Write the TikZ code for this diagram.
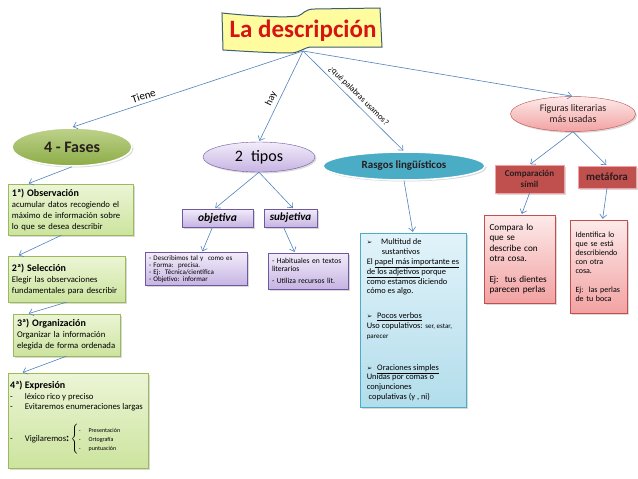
\documentclass[tikz,border=0pt]{standalone}
\usepackage{fontspec}
\setmainfont{Carlito}
\newfontfamily\symfont{DejaVu Sans}
\usetikzlibrary{arrows.meta,shapes.geometric,shadows}

\definecolor{flecha}{RGB}{79,129,189}
\definecolor{titulo}{RGB}{214,20,20}
\definecolor{banda}{RGB}{255,252,160}
\definecolor{bandaborde}{RGB}{62,95,111}
\definecolor{verdeel1}{RGB}{190,210,140}
\definecolor{verdeel2}{RGB}{140,172,70}
\definecolor{verde1}{RGB}{236,245,214}
\definecolor{verde2}{RGB}{204,228,158}
\definecolor{verdeborde}{RGB}{155,187,89}
\definecolor{lila1}{RGB}{242,236,250}
\definecolor{lila2}{RGB}{198,180,226}
\definecolor{lilaborde}{RGB}{112,88,160}
\definecolor{azulel}{RGB}{75,172,198}
\definecolor{azul1}{RGB}{226,243,250}
\definecolor{azul2}{RGB}{178,221,235}
\definecolor{rosa1}{RGB}{253,234,234}
\definecolor{rosa2}{RGB}{242,162,162}
\definecolor{rojo}{RGB}{192,80,77}
\definecolor{oscuro}{RGB}{40,30,30}

\newcommand{\flechita}{{\symfont\fontsize{6.5}{6.5}\selectfont ➢}}

\begin{document}
\begin{tikzpicture}[x=1pt,y=-1pt,->,>={Straight Barb[length=4pt,width=7pt]},shorten >=1pt,
                    every edge/.style={draw=flecha,line width=.6pt}]
  \tikzstyle{sombra}=[drop shadow={opacity=.3,shadow xshift=1.5pt,shadow yshift=-1.5pt}]
  \tikzstyle{fase}=[rectangle,draw=verdeborde,top color=verde1,bottom color=verde2,sombra,
                    align=left,inner xsep=4pt,font=\fontsize{8.7}{11}\selectfont]
  \tikzstyle{tipobox}=[rectangle,draw=lilaborde,top color=lila1,bottom color=lila2,sombra]
  \tikzstyle{figbox}=[rectangle,draw=rojo,top color=rosa1,bottom color=rosa2,sombra,align=left]
  \useasboundingbox (0,0) rectangle (638,479);

  % titulo
  \draw[-,fill=banda,draw=bandaborde,line width=1pt]
    (222,13) .. controls (250,16) and (285,18) .. (298,16)
    .. controls (304,14) and (304,9) .. (315,9) -- (380,8) -- (382,47) -- (312,47)
    .. controls (304,47) and (300,53) .. (290,53)
    .. controls (270,53) and (240,51) .. (223,50) -- cycle;
  \node[text=titulo,font=\fontsize{25}{28}\selectfont\bfseries] (T) at (303,31) {La descripción};
  \coordinate (Tb) at (303,51);

  % fases
  \node[ellipse,draw=white,line width=1.5pt,top color=verdeel1,bottom color=verdeel2,sombra,
        minimum width=120pt,minimum height=38pt,text=oscuro,
        font=\fontsize{16}{18}\selectfont\bfseries] (Fa) at (72,147) {4 - Fases};
  \node[fase,minimum width=125pt,minimum height=51pt,text width=117pt] (F1) at (70.5,209.5)
    {{\fontsize{10}{11}\selectfont\bfseries 1ª) Observación}\\
     acumular datos recogiendo el\\máximo de información sobre\\lo que se desea describir};
  \node[fase,minimum width=117pt,minimum height=46pt,text width=109pt] (F2) at (66.5,279)
    {{\fontsize{10}{11}\selectfont\bfseries 2ª) Selección}\\
     Elegir las observaciones\\fundamentales para describir};
  \node[fase,minimum width=107pt,minimum height=42pt,text width=99pt] (F3) at (66.5,335)
    {{\fontsize{10}{11}\selectfont\bfseries 3ª) Organización}\\
     Organizar la información\\elegida de forma ordenada};
  \node[fase,minimum width=140pt,minimum height=95pt] (F4) at (78,420.5) {};
  \node[anchor=north west,align=left,inner sep=0pt,font=\fontsize{8.7}{10.5}\selectfont] (F4x) at (10,381)
    {{\fontsize{10}{11}\selectfont\bfseries 4ª) Expresión}\\
     -\hspace{12pt}léxico rico y preciso\\
     -\hspace{12pt}Evitaremos enumeraciones largas\\[12pt]
     -\hspace{12pt}Vigilaremos{\fontsize{11}{11}\selectfont\bfseries :}\,$\left\{\mbox{\fontsize{6}{9}\selectfont
       \begin{tabular}{@{}l@{}}-\hspace{8pt}Presentación\\-\hspace{8pt}Ortografía\\-\hspace{8pt}puntuación\end{tabular}}\right.$};

  % tipos
  \node[ellipse,draw=lilaborde,top color=lila1,bottom color=lila2,sombra,
        minimum width=112pt,minimum height=30pt,font=\fontsize{16}{18}\selectfont] (Ti) at (259,157) {2\hspace{8pt}tipos};
  \node[tipobox,minimum width=71pt,minimum height=18pt,font=\fontsize{11.5}{13}\selectfont\bfseries\itshape] (Ob) at (217.5,218) {objetiva};
  \node[tipobox,minimum width=53pt,minimum height=18pt,font=\fontsize{11}{13}\selectfont\bfseries\itshape] (Su) at (290.5,218) {subjetiva};
  \node[tipobox,minimum width=102pt,minimum height=32pt,text width=94pt,align=left,
        font=\fontsize{7}{6.8}\selectfont] (D1) at (196,269)
    {- Describimos tal y\ \ como es\\- Forma:\ \ precisa.\\- Ej:\ \ Técnica/científica\\- Objetivo: informar};
  \node[tipobox,minimum width=80pt,minimum height=36pt,text width=72pt,align=left,
        font=\fontsize{7.6}{8}\selectfont] (D2) at (308,271)
    {- Habituales en textos\\literarios\\[4pt]- Utiliza recursos lit.};

  % rasgos
  \node[ellipse,draw=white,line width=1.5pt,fill=azulel,sombra,minimum width=162pt,minimum height=28pt,
        text=oscuro,font=\fontsize{11}{13}\selectfont\bfseries] (Ra) at (404,166) {Rasgos lingüísticos};
  \node[rectangle,draw=azulel,top color=azul1,bottom color=azul2,sombra,minimum width=106pt,minimum height=174pt,
        align=left,font=\fontsize{8.4}{9.8}\selectfont] (Rb) at (413,320)
    {\flechita\hspace{9pt}Multitud de\\
     \hspace{15pt}sustantivos\\
     El \underline{papel más importante es}\\
     \underline{de los adjetivos} porque\\
     como estamos diciendo\\
     cómo es algo.\\[15pt]
     \flechita\hspace{5pt}\underline{Pocos verbos}\\
     Uso\ copulativos: {\fontsize{7}{9.8}\selectfont ser, estar,}\\
     {\fontsize{7}{9.8}\selectfont parecer}\\[22pt]
     \flechita\hspace{5pt}\underline{Oraciones simples}\\
     Unidas por comas o\\
     conjunciones\\
     \ copulativas (y , ni)};

  % figuras
  \node[ellipse,draw=rojo,top color=rosa1,bottom color=rosa2,sombra,minimum width=125pt,minimum height=28pt,
        align=center,text=oscuro,font=\fontsize{10}{11}\selectfont] (Fi) at (573,114) {Figuras literarias\\más usadas};
  \node[rectangle,draw=rosa2,fill=rojo,sombra,minimum width=69pt,minimum height=28pt,align=center,
        text=oscuro,font=\fontsize{9}{11}\selectfont\bfseries] (Co) at (529.5,179) {Comparación\\símil};
  \node[rectangle,draw=rosa2,fill=rojo,sombra,minimum width=58pt,minimum height=22pt,
        text=oscuro,font=\fontsize{11}{13}\selectfont\bfseries] (Me) at (607,177) {metáfora};
  \node[figbox,minimum width=71pt,minimum height=88pt,text width=60pt,inner xsep=5.5pt,
        font=\fontsize{9.2}{10.3}\selectfont] (P1) at (519.5,259)
    {Compara lo\\que se\\describe con\\otra cosa.\\[10.3pt]Ej:\ \ tus dientes\\parecen perlas};
  \node[figbox,minimum width=57pt,minimum height=93pt,text width=46pt,inner xsep=5.5pt,
        font=\fontsize{8}{9.2}\selectfont] (P2) at (598.5,266.5)
    {Identifica lo\\que se está\\describiendo\\con otra\\cosa.\\[9.2pt]Ej:\ \ las perlas\\de tu boca};

  \path (Tb) edge node[sloped,above,pos=.68,font=\fontsize{11}{13}\selectfont] {Tiene} (Fa.north)
             edge node[sloped,above,pos=.56,font=\fontsize{10}{12}\selectfont] {hay} (Ti.north)
             edge node[sloped,above,pos=.5,font=\fontsize{8.5}{10}\selectfont] {¿qué palabras usamos?} (Ra.north)
             edge (Fi.north)
        (Fa.south) edge ([xshift=20pt]F1.north west)
        ([xshift=-9pt]F1.south) edge ([xshift=10pt]F2.north west)
        (F2.south) edge ([xshift=15pt]F3.north west)
        (F3.south) edge ([xshift=14pt]F4.north west)
        (Ti.south) edge ([xshift=-3pt]Ob.north)
                   edge ([xshift=3pt]Su.north)
        ([xshift=-5pt]Ob.south) edge ([xshift=6pt]D1.north)
        ([xshift=-7pt]Su.south) edge ([xshift=-13pt]D2.north)
        (Ra.south) edge (Rb.north)
        (Fi.south) edge (Co.north)
                   edge (Me.north)
        (Co.south) edge ([xshift=2pt]P1.north)
        (Me.south) edge ([xshift=4pt]P2.north);
\end{tikzpicture}
\end{document}
